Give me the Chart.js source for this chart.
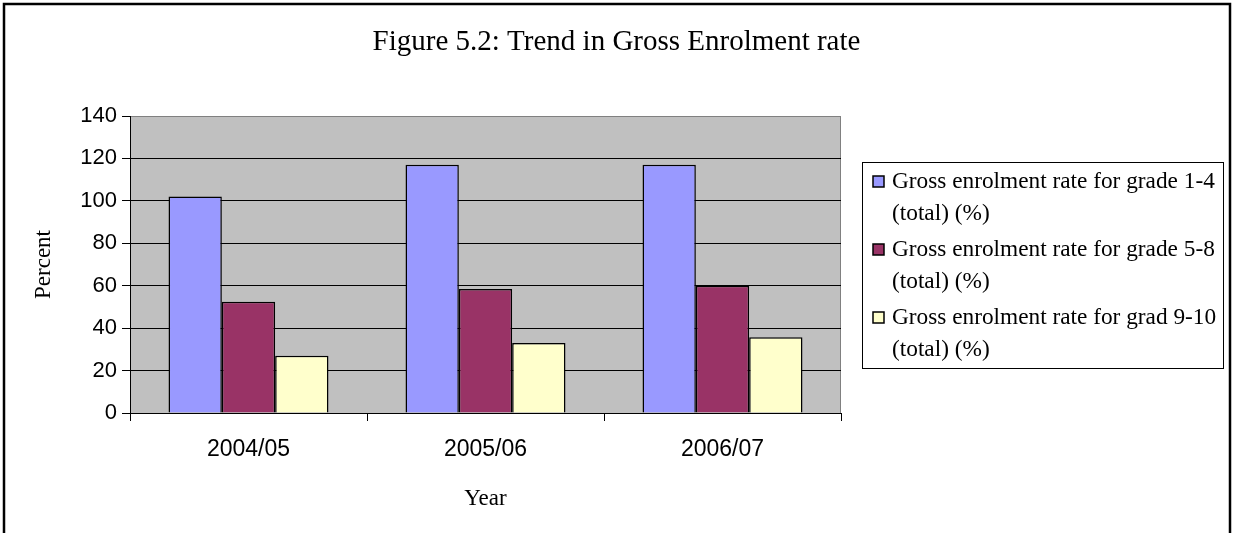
<!DOCTYPE html>
<html>
<head>
<meta charset="utf-8">
<title>Gross Enrolment rate</title>
<script src="https://cdn.jsdelivr.net/npm/chart.js@4.4.1/dist/chart.umd.min.js"></script>
<style>
  html, body { margin: 0; padding: 0; background: #ffffff; }
  #wrap { width: 1233px; height: 533px; }
</style>
</head>
<body>
<div id="wrap"><canvas id="chart" width="1233" height="533"></canvas></div>
<script>
// data
const years = ["2004/05", "2005/06", "2006/07"];
const grade1to4 = [102, 117, 117];
const grade5to8 = [52.5, 58.5, 60];
const grade9to10 = [27, 33, 35.7];
const seriesLabels = [
    ["Gross enrolment rate for grade 1-4", "(total) (%)"],
    ["Gross enrolment rate for grade 5-8", "(total) (%)"],
    ["Gross enrolment rate for grad 9-10", "(total) (%)"]
];
const seriesColors = ["#9999ff", "#993366", "#ffffcc"];
const chartTitle = "Figure 5.2: Trend in Gross Enrolment rate";

const serif = "'Liberation Serif', 'Times New Roman', serif";
const sans = "'Liberation Sans', Arial, sans-serif";

// grey plot background, title, legend box and outer frame
const framePlugin = {
    id: "frame",
    beforeDraw(chart) {
        const { ctx, chartArea: a } = chart;
        ctx.save();
        ctx.fillStyle = "#c0c0c0";
        ctx.fillRect(a.left, a.top, a.right - a.left, a.bottom - a.top);
        ctx.strokeStyle = "#808080";
        ctx.lineWidth = 1;
        ctx.beginPath();
        ctx.moveTo(a.right - 0.5, a.top);
        ctx.lineTo(a.right - 0.5, a.bottom);
        ctx.stroke();
        ctx.restore();
    },
    afterDraw(chart) {
        const { ctx, chartArea: a, width } = chart;
        ctx.save();

        // title
        ctx.fillStyle = "#000";
        ctx.font = "29px " + serif;
        ctx.textAlign = "center";
        ctx.textBaseline = "middle";
        ctx.fillText(chartTitle, width / 2, 42);

        // legend
        const boxW = 361, boxH = 206;
        const boxX = 862.5;
        const boxY = Math.round((a.top + a.bottom) / 2 - boxH / 2) + 0.5;
        ctx.strokeStyle = "#000";
        ctx.lineWidth = 1;
        ctx.strokeRect(boxX, boxY, boxW, boxH);

        ctx.font = "23.3px " + serif;
        ctx.textAlign = "left";
        chart.data.datasets.forEach((ds, i) => {
            const y0 = boxY + 19 + i * 68;
            ctx.fillStyle = ds.backgroundColor;
            ctx.fillRect(873, y0 - 5.5, 11, 11);
            ctx.lineWidth = 1.5;
            ctx.strokeStyle = "#000";
            ctx.strokeRect(873, y0 - 5.5, 11, 11);
            ctx.fillStyle = "#000";
            seriesLabels[i].forEach((line, j) => {
                ctx.fillText(line, 892, y0 + j * 32);
            });
        });

        // outer frame
        ctx.strokeStyle = "#000";
        ctx.lineWidth = 2.5;
        ctx.strokeRect(4, 4, 1226, 560);
        ctx.restore();
    }
};

const ctx = document.getElementById("chart").getContext("2d");
new Chart(ctx, {
    type: "bar",
    data: {
        labels: years,
        datasets: [grade1to4, grade5to8, grade9to10].map((values, i) => ({
            label: seriesLabels[i].join(" "),
            data: values,
            backgroundColor: seriesColors[i],
            borderColor: "#000",
            borderWidth: 1.5,
            barPercentage: 1,
            categoryPercentage: 0.675
        }))
    },
    options: {
        responsive: false,
        animation: false,
        layout: {
            padding: { top: 116, left: 22, right: 392, bottom: 10 }
        },
        plugins: {
            legend: { display: false },
            title: { display: false },
            tooltip: { enabled: false }
        },
        scales: {
            x: {
                afterFit: s => { s.height = 110; },
                grid: {
                    offset: true,
                    drawOnChartArea: false,
                    tickLength: 8,
                    tickColor: "#000"
                },
                border: { color: "#000", width: 1 },
                ticks: {
                    color: "#000",
                    padding: 15,
                    font: { family: sans, size: 23 }
                },
                title: {
                    display: true,
                    text: "Year",
                    color: "#000",
                    padding: { top: 0, bottom: 10 },
                    font: { family: serif, size: 23 }
                }
            },
            y: {
                min: 0,
                max: 140,
                afterFit: s => { s.width = 108; },
                grid: {
                    color: c => (c.tick && c.tick.value === 140 ? "#808080" : "#000"),
                    lineWidth: 1,
                    tickLength: 8,
                    tickColor: "#000"
                },
                border: { color: "#000", width: 1 },
                ticks: {
                    stepSize: 20,
                    color: "#000",
                    padding: 5,
                    font: { family: sans, size: 22 }
                },
                title: {
                    display: true,
                    text: "Percent",
                    color: "#000",
                    padding: { top: 8, bottom: 0 },
                    font: { family: serif, size: 23 }
                }
            }
        }
    },
    plugins: [framePlugin]
});
</script>
</body>
</html>
